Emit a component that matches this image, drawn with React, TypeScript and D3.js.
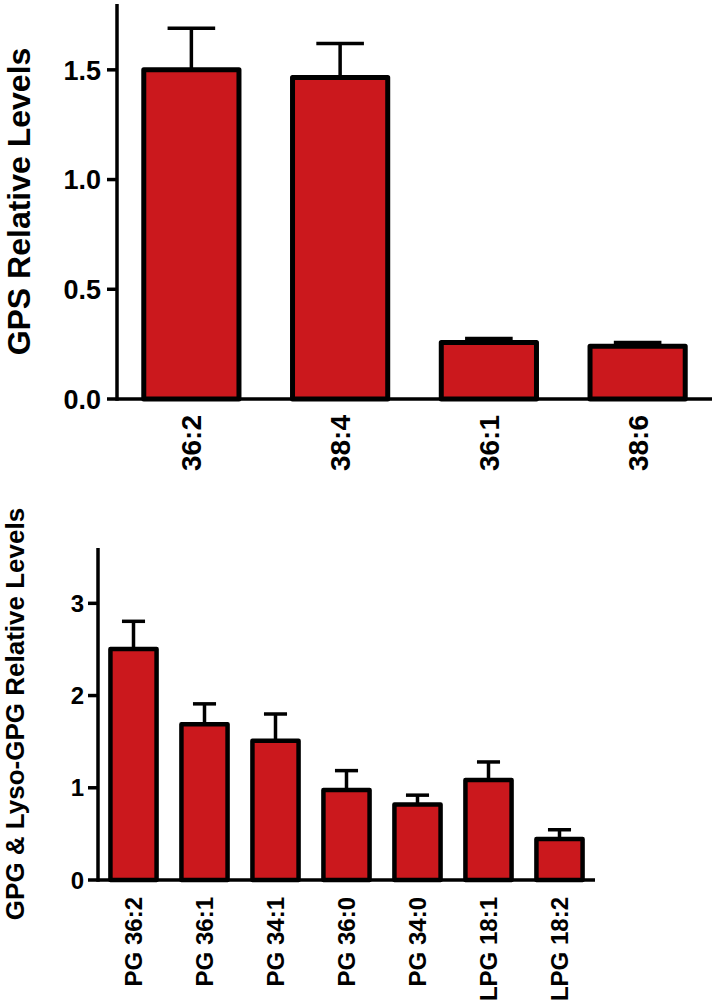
import * as d3 from 'd3';
import {useEffect, useRef} from 'react';

// top panel: GPS species
const gpsCategories = ['36:2', '38:4', '36:1', '38:6'];
const gpsValues = [1.5, 1.465, 0.258, 0.24];
const gpsErrors = [0.19, 0.155, 0.018, 0.018];
const gpsTicks = [0, 0.5, 1.0, 1.5];

// bottom panel: GPG & Lyso-GPG species
const gpgCategories = ['PG 36:2', 'PG 36:1', 'PG 34:1', 'PG 36:0', 'PG 34:0', 'LPG 18:1', 'LPG 18:2'];
const gpgValues = [2.505, 1.69, 1.51, 0.976, 0.82, 1.085, 0.445];
const gpgErrors = [0.3, 0.22, 0.29, 0.21, 0.1, 0.195, 0.1];
const gpgTicks = [0, 1, 2, 3];

const RED = '#cb181d';
const FONT = '"Liberation Sans", Arial, sans-serif';

type Panel = {
    categories: string[];
    values: number[];
    errors: number[];
    ticks: number[];
    tickFormat: (d: number) => string;
    yMax: number;
    x0: number;
    x1: number;
    yBase: number;
    yTop: number;
    padding: number;
    barStroke: number;
    tickFont: number;
    tickLabelX: number;
    catFont: number;
    catGap: number;
    title: string;
    titleFont: number;
    titleX: number;
};

const drawPanel = (svg: d3.Selection<SVGSVGElement, unknown, null, undefined>, p: Panel) => {
    const g = svg.append('g');

    const x = d3
        .scaleBand<string>()
        .domain(p.categories)
        .range([p.x0, p.x1])
        .paddingInner(p.padding)
        .paddingOuter(p.padding / 2);

    const y = d3.scaleLinear().domain([0, p.yMax]).range([p.yBase, p.yTop]);

    const rows = p.categories.map((c, i) => ({c, v: p.values[i], e: p.errors[i]}));

    // error bars (stem + cap)
    const capW = x.bandwidth() / 2;
    g.selectAll('.stem')
        .data(rows)
        .join('line')
        .attr('x1', (d) => x(d.c)! + x.bandwidth() / 2)
        .attr('x2', (d) => x(d.c)! + x.bandwidth() / 2)
        .attr('y1', (d) => y(d.v))
        .attr('y2', (d) => y(d.v + d.e))
        .attr('stroke', '#000')
        .attr('stroke-width', 3.5);
    g.selectAll('.cap')
        .data(rows)
        .join('line')
        .attr('x1', (d) => x(d.c)! + x.bandwidth() / 2 - capW / 2)
        .attr('x2', (d) => x(d.c)! + x.bandwidth() / 2 + capW / 2)
        .attr('y1', (d) => y(d.v + d.e))
        .attr('y2', (d) => y(d.v + d.e))
        .attr('stroke', '#000')
        .attr('stroke-width', 3.5);

    // bars
    g.selectAll('.bar')
        .data(rows)
        .join('rect')
        .attr('x', (d) => x(d.c)!)
        .attr('width', x.bandwidth())
        .attr('y', (d) => y(d.v))
        .attr('height', (d) => y(0) - y(d.v))
        .attr('fill', RED)
        .attr('stroke', '#000')
        .attr('stroke-width', p.barStroke)
        .attr('stroke-linejoin', 'round');

    // x axis line
    g.append('line')
        .attr('x1', p.x0)
        .attr('x2', p.x1)
        .attr('y1', p.yBase)
        .attr('y2', p.yBase)
        .attr('stroke', '#000')
        .attr('stroke-width', 3.5);

    // y axis
    g.append('line')
        .attr('x1', p.x0)
        .attr('x2', p.x0)
        .attr('y1', p.yBase + 1.75)
        .attr('y2', p.yTop)
        .attr('stroke', '#000')
        .attr('stroke-width', 3.5);

    g.selectAll('.ytick')
        .data(p.ticks)
        .join('line')
        .attr('x1', p.x0 - 10)
        .attr('x2', p.x0)
        .attr('y1', (d) => y(d))
        .attr('y2', (d) => y(d))
        .attr('stroke', '#000')
        .attr('stroke-width', 3.5);

    g.selectAll('.ylabel')
        .data(p.ticks)
        .join('text')
        .attr('x', p.tickLabelX)
        .attr('y', (d) => y(d))
        .attr('dy', '0.36em')
        .attr('text-anchor', 'end')
        .attr('font-family', FONT)
        .attr('font-weight', 'bold')
        .attr('font-size', p.tickFont)
        .text((d) => p.tickFormat(d));

    // category labels, rotated
    g.selectAll('.xlabel')
        .data(p.categories)
        .join('text')
        .attr(
            'transform',
            (d) => `translate(${x(d)! + x.bandwidth() / 2}, ${p.yBase + p.catGap}) rotate(-90)`,
        )
        .attr('dy', '0.36em')
        .attr('text-anchor', 'end')
        .attr('font-family', FONT)
        .attr('font-weight', 'bold')
        .attr('font-size', p.catFont)
        .text((d) => d);

    // y title
    g.append('text')
        .attr('transform', `translate(${p.titleX}, ${(p.yBase + p.yTop) / 2}) rotate(-90)`)
        .attr('text-anchor', 'middle')
        .attr('font-family', FONT)
        .attr('font-weight', 'bold')
        .attr('font-size', p.titleFont)
        .text(p.title);
};

export default function App() {
    const ref = useRef<SVGSVGElement>(null);
    const width = 714;
    const height = 1001;

    useEffect(() => {
        const svg = d3.select(ref.current!);
        svg.selectAll('*').remove();

        drawPanel(svg, {
            categories: gpsCategories,
            values: gpsValues,
            errors: gpsErrors,
            ticks: gpsTicks,
            tickFormat: d3.format('.1f'),
            yMax: 1.8,
            x0: 117,
            x1: 712,
            yBase: 399,
            yTop: 4,
            padding: 0.36,
            barStroke: 5,
            tickFont: 27,
            tickLabelX: 101,
            catFont: 28,
            catGap: 16,
            title: 'GPS Relative Levels',
            titleFont: 32,
            titleX: 30,
        });

        drawPanel(svg, {
            categories: gpgCategories,
            values: gpgValues,
            errors: gpgErrors,
            ticks: gpgTicks,
            tickFormat: d3.format('d'),
            yMax: 3.6,
            x0: 98,
            x1: 595,
            yBase: 880,
            yTop: 548,
            padding: 0.35,
            barStroke: 4.5,
            tickFont: 24,
            tickLabelX: 84,
            catFont: 24,
            catGap: 17,
            title: 'GPG & Lyso-GPG Relative Levels',
            titleFont: 26,
            titleX: 24,
        });
    }, []);

    return (
        <svg
            ref={ref}
            width={width}
            height={height}
            style={{position: 'absolute', left: 0, top: 0, background: '#fff'}}
        />
    );
}
